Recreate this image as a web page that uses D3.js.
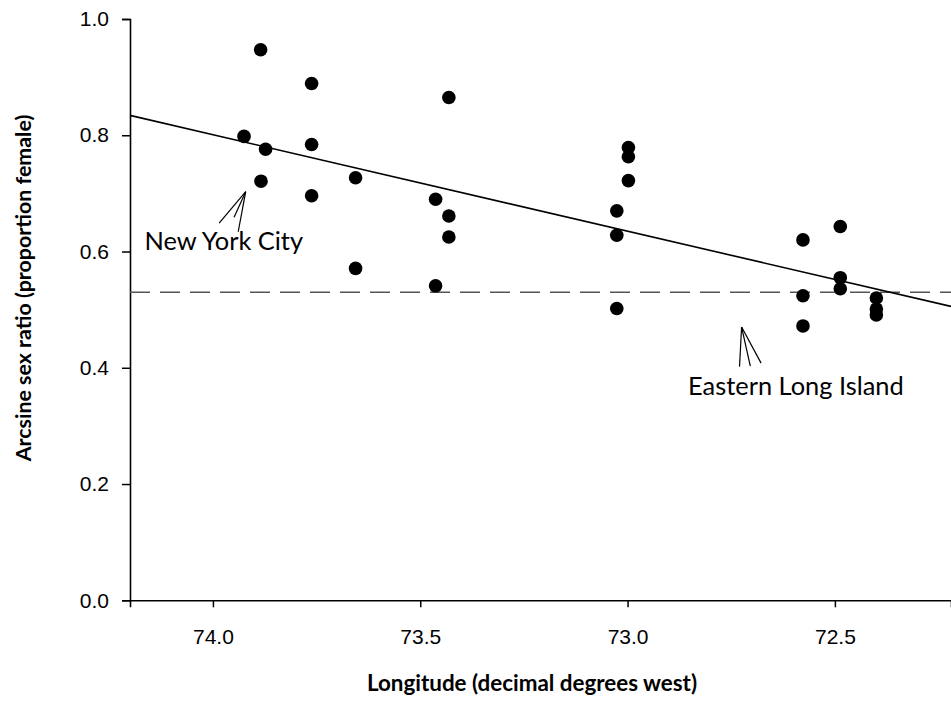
<!DOCTYPE html>
<html>
<head>
<meta charset="utf-8">
<script src="https://cdn.jsdelivr.net/npm/d3@7"></script>
<style>
  html, body { margin: 0; padding: 0; background: #fff; }
  svg { display: block; }
</style>
</head>
<body>
<svg id="chart" width="951" height="702"></svg>
<script>
// Site longitude (decimal degrees west) and arcsine-transformed sex ratio
const longitude = [
  73.885, 73.762, 73.925, 73.873, 73.762, 73.884, 73.762,
  73.431, 73.656, 73.463, 73.431, 73.431, 73.656, 73.463,
  72.998, 72.998, 72.998, 73.026, 73.026, 73.026,
  72.577, 72.487, 72.487, 72.487, 72.577, 72.577, 72.400, 72.400, 72.400
];
const sexRatio = [
  0.947, 0.889, 0.798, 0.776, 0.784, 0.721, 0.696,
  0.865, 0.727, 0.690, 0.661, 0.625, 0.571, 0.541,
  0.779, 0.763, 0.722, 0.670, 0.628, 0.502,
  0.620, 0.643, 0.555, 0.536, 0.524, 0.472, 0.520, 0.501, 0.491
];

// Fitted regression: ratio = intercept + slope * longitude
const fitIntercept = -11.483;
const fitSlope = 0.166;
// Reference ratio (dashed line)
const referenceRatio = 0.530;

const xTicks = [74.0, 73.5, 73.0, 72.5];
const yTicks = [0.0, 0.2, 0.4, 0.6, 0.8, 1.0];
const xDomain = [74.2, 72.22];
const yDomain = [0, 1];

const xTitle = "Longitude (decimal degrees west)";
const yTitle = "Arcsine sex ratio (proportion female)";

const annotations = [
  { text: "New York City", lon: 74.165, val: 0.603,
    apex: [73.921, 0.703],
    ends: [[73.985, 0.649], [73.949, 0.659], [73.939, 0.634]] },
  { text: "Eastern Long Island", lon: 72.854, val: 0.353,
    apex: [72.725, 0.470],
    ends: [[72.730, 0.402], [72.704, 0.403], [72.678, 0.408]] }
];

const svg = d3.select("#chart");
const plotLeft = 130, plotRight = 951, plotTop = 19, plotBottom = 600.3;

const x = d3.scaleLinear().domain(xDomain).range([plotLeft, plotRight]);
const y = d3.scaleLinear().domain(yDomain).range([plotBottom, plotTop]);

const tickFont = "'Liberation Sans', Arial, sans-serif";
const labelFont = "Lato, 'Open Sans', sans-serif";

// Y axis
const yAxis = svg.append("g")
  .attr("transform", `translate(${plotLeft},0)`)
  .call(d3.axisLeft(y).tickValues(yTicks).tickFormat(d3.format(".1f"))
    .tickSizeOuter(0).tickSize(8).tickPadding(13));
yAxis.select(".domain").attr("stroke", "#000").attr("stroke-width", 1.6);
yAxis.selectAll(".tick line").attr("stroke", "#000").attr("stroke-width", 1.5);
yAxis.selectAll(".tick text")
  .attr("font-family", tickFont).attr("font-size", 21).attr("fill", "#000");

// X axis
const xAxis = svg.append("g")
  .attr("transform", `translate(0,${plotBottom})`)
  .call(d3.axisBottom(x).tickValues(xTicks).tickFormat(d3.format(".1f"))
    .tickSizeOuter(0).tickSize(7).tickPadding(22));
xAxis.select(".domain").attr("stroke", "#000").attr("stroke-width", 1.6);
xAxis.selectAll(".tick line").attr("stroke", "#000").attr("stroke-width", 1.5);
xAxis.selectAll(".tick text")
  .attr("font-family", tickFont).attr("font-size", 21).attr("fill", "#000");

// Axis titles
svg.append("text")
  .attr("x", 532).attr("y", 691)
  .attr("text-anchor", "middle")
  .attr("font-family", labelFont).attr("font-weight", "bold")
  .attr("font-size", 22.4).attr("fill", "#000")
  .text(xTitle);

svg.append("text")
  .attr("transform", "translate(31,288) rotate(-90)")
  .attr("text-anchor", "middle")
  .attr("font-family", labelFont).attr("font-weight", "bold")
  .attr("font-size", 21.4).attr("fill", "#000")
  .text(yTitle);

// Dashed reference line
svg.append("line")
  .attr("x1", x(xDomain[0])).attr("x2", x(xDomain[1]))
  .attr("y1", y(referenceRatio)).attr("y2", y(referenceRatio))
  .attr("stroke", "#555").attr("stroke-width", 1.4)
  .attr("stroke-dasharray", "20,10");

// Regression line
svg.append("line")
  .attr("x1", x(xDomain[0])).attr("x2", x(xDomain[1]))
  .attr("y1", y(fitIntercept + fitSlope * xDomain[0]))
  .attr("y2", y(fitIntercept + fitSlope * xDomain[1]))
  .attr("stroke", "#000").attr("stroke-width", 1.6);

// Points
svg.append("g").selectAll("circle")
  .data(longitude.map((lon, i) => [lon, sexRatio[i]]))
  .join("circle")
  .attr("cx", d => x(d[0]))
  .attr("cy", d => y(d[1]))
  .attr("r", 6.8)
  .attr("fill", "#000");

// Place annotations with pointer strokes
annotations.forEach(a => {
  const g = svg.append("g");
  a.ends.forEach(e => {
    g.append("line")
      .attr("x1", x(a.apex[0])).attr("y1", y(a.apex[1]))
      .attr("x2", x(e[0])).attr("y2", y(e[1]))
      .attr("stroke", "#000").attr("stroke-width", 1.2);
  });
  g.append("text")
    .attr("x", x(a.lon)).attr("y", y(a.val))
    .attr("font-family", labelFont).attr("font-size", 25.4)
    .attr("fill", "#000")
    .text(a.text);
});
</script>
</body>
</html>
